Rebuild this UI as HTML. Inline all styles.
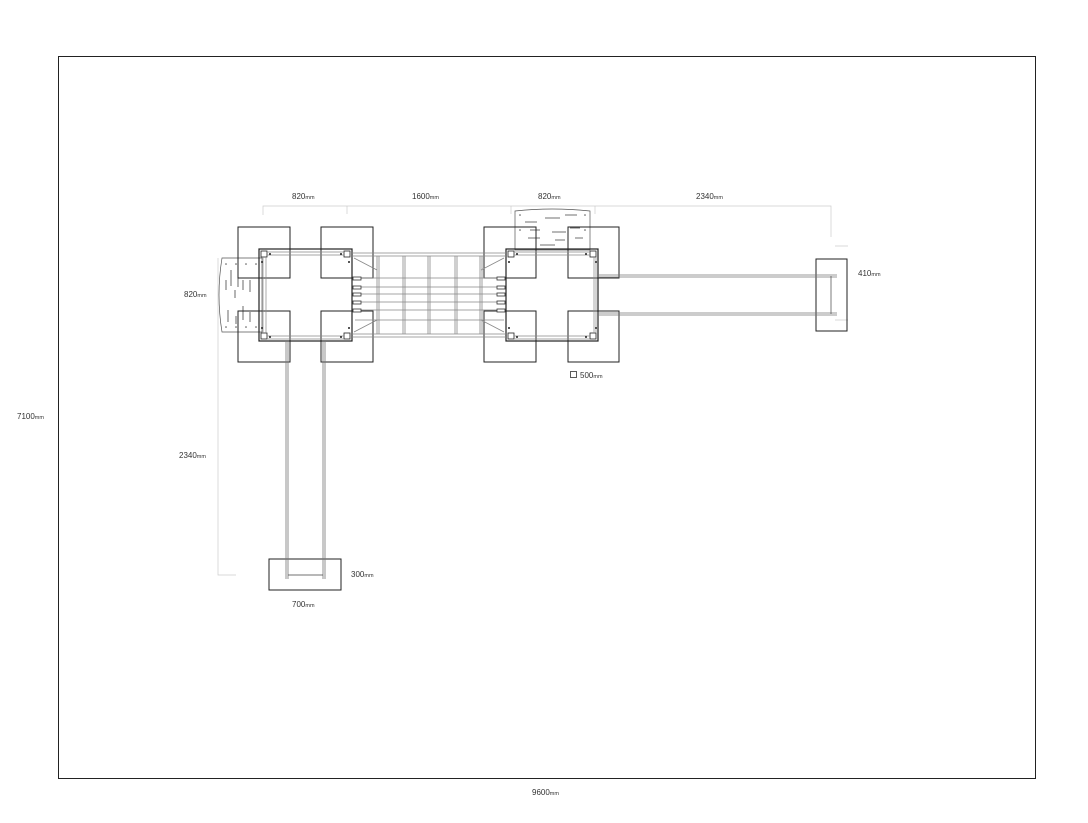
<!DOCTYPE html>
<html><head><meta charset="utf-8"><style>
html,body{margin:0;padding:0;background:#fff;}
svg{display:block;font-family:"Liberation Sans",sans-serif;}
.t{font-size:8px;fill:#333;}
.s{font-size:5.5px;fill:#333;}
</style></head><body>
<svg width="1088" height="823" viewBox="0 0 1088 823" xmlns="http://www.w3.org/2000/svg">
<rect x="58.5" y="56.5" width="977" height="722" fill="none" stroke="#222" stroke-width="1"/>
<!-- dimension lines -->
<g stroke="#ccc" stroke-width="0.7" fill="none">
<path d="M263 215V206H831V237M347 206V214M511 206V214M595 206V214"/>
<path d="M835 246H848M835 320H848"/>
<path d="M218 258V575H236"/>
</g>
<!-- climbing panels -->
<g stroke="#555" stroke-width="0.7" fill="#fff">
<path d="M222 258L262 258L262 332L222 332Q216 295 222 258Z"/>
<path d="M515 211Q552 207 590 211L590 250L515 250Z"/>
</g>
<g stroke="#444" stroke-width="0.8" fill="none">
<path d="M226 280v10M231 270v16M238 275v12M243 280v10M228 310v12M236 316v8M243 306v14M250 312v10M235 290v8M250 280v12"/>
<path d="M525 222h12M545 218h15M565 215h12M530 230h10M552 232h14M528 238h12M555 240h10M540 245h15M570 228h10M575 238h8"/>
</g>
<g fill="#555">
<circle cx="226" cy="264" r="0.8"/><circle cx="236" cy="264" r="0.8"/><circle cx="246" cy="264" r="0.8"/><circle cx="256" cy="264" r="0.8"/>
<circle cx="226" cy="327" r="0.8"/><circle cx="236" cy="327" r="0.8"/><circle cx="246" cy="327" r="0.8"/><circle cx="256" cy="327" r="0.8"/>
<circle cx="520" cy="215" r="0.8"/><circle cx="585" cy="215" r="0.8"/><circle cx="520" cy="230" r="0.8"/><circle cx="585" cy="230" r="0.8"/>
</g>
<!-- footings -->
<g stroke="#222" stroke-width="1" fill="none">
<rect x="238" y="227" width="52" height="51"/><rect x="321" y="227" width="52" height="51"/>
<rect x="238" y="311" width="52" height="51"/><rect x="321" y="311" width="52" height="51"/>
<rect x="484" y="227" width="52" height="51"/><rect x="568" y="227" width="51" height="51"/>
<rect x="484" y="311" width="52" height="51"/><rect x="568" y="311" width="51" height="51"/>
<rect x="816" y="259" width="31" height="72"/>
<rect x="269" y="559" width="72" height="31"/>
</g>
<!-- platform frames -->
<g stroke="#222" stroke-width="1.2" fill="none">
<rect x="259" y="249" width="93" height="92"/>
<rect x="506" y="249" width="92" height="92"/>
</g>
<g stroke="#222" stroke-width="0.8" fill="#fff">
<rect x="261" y="251" width="6" height="6"/><rect x="344" y="251" width="6" height="6"/><rect x="261" y="333" width="6" height="6"/><rect x="344" y="333" width="6" height="6"/>
<rect x="508" y="251" width="6" height="6"/><rect x="590" y="251" width="6" height="6"/><rect x="508" y="333" width="6" height="6"/><rect x="590" y="333" width="6" height="6"/>
</g>
<!-- rails inside platforms -->
<g stroke="#888" stroke-width="0.7" fill="none">
<path d="M267 252H344M267 255H344M267 336H344M267 339H344M263 257V333M266 257V333"/>
<path d="M514 252H590M514 255H590M514 336H590M514 339H590M594 257V333M596 257V333"/>
</g>
<!-- bridge -->
<g stroke="#888" stroke-width="0.8" fill="none">
<path d="M352 253H506M352 256H506M352 334H506M352 337H506"/>
<path d="M377 256V334M379 256V334M403 256V334M405 256V334M428 256V334M430 256V334M455 256V334M457 256V334M480 256V334M482 256V334"/>
<path d="M355 278H504M355 287H504M355 294H504M355 302H504M355 310H504M355 320H504"/>
<path d="M354 258L377 270M354 332L377 320M504 258L481 270M504 332L481 320"/>
</g>
<g stroke="#333" stroke-width="0.8" fill="#fff">
<rect x="353" y="277" width="8" height="3"/><rect x="353" y="286" width="8" height="3"/><rect x="353" y="293" width="8" height="3"/><rect x="353" y="301" width="8" height="3"/><rect x="353" y="309" width="8" height="3"/>
<rect x="497" y="277" width="8" height="3"/><rect x="497" y="286" width="8" height="3"/><rect x="497" y="293" width="8" height="3"/><rect x="497" y="301" width="8" height="3"/><rect x="497" y="309" width="8" height="3"/>
</g>
<!-- arms -->
<g stroke="#777" stroke-width="0.8" fill="none">
<path d="M598 275H837M598 277H837M598 313H837M598 315H837"/>
<path d="M286 342V579M288 342V579M323 342V579M325 342V579"/>
</g>
<g stroke="#444" stroke-width="0.7"><path d="M831 276V314M288 575H323"/></g>
<g fill="#222">
<circle cx="270" cy="254" r="1"/><circle cx="341" cy="254" r="1"/><circle cx="262" cy="262" r="1"/><circle cx="349" cy="262" r="1"/>
<circle cx="262" cy="328" r="1"/><circle cx="349" cy="328" r="1"/><circle cx="270" cy="337" r="1"/><circle cx="341" cy="337" r="1"/>
<circle cx="517" cy="254" r="1"/><circle cx="586" cy="254" r="1"/><circle cx="509" cy="262" r="1"/><circle cx="596" cy="262" r="1"/>
<circle cx="509" cy="328" r="1"/><circle cx="596" cy="328" r="1"/><circle cx="517" cy="337" r="1"/><circle cx="586" cy="337" r="1"/>
</g>
<!-- labels -->
<text class="t" x="292" y="199">820<tspan class="s">mm</tspan></text>
<text class="t" x="412" y="199">1600<tspan class="s">mm</tspan></text>
<text class="t" x="538" y="199">820<tspan class="s">mm</tspan></text>
<text class="t" x="696" y="199">2340<tspan class="s">mm</tspan></text>
<text class="t" x="858" y="276">410<tspan class="s">mm</tspan></text>
<text class="t" x="184" y="297">820<tspan class="s">mm</tspan></text>
<text class="t" x="179" y="458">2340<tspan class="s">mm</tspan></text>
<text class="t" x="351" y="577">300<tspan class="s">mm</tspan></text>
<text class="t" x="292" y="607">700<tspan class="s">mm</tspan></text>
<rect x="570.5" y="371.5" width="6" height="6" fill="none" stroke="#333" stroke-width="0.8"/>
<text class="t" x="580" y="378">500<tspan class="s">mm</tspan></text>
<text class="t" x="17" y="419">7100<tspan class="s">mm</tspan></text>
<text class="t" x="532" y="795">9600<tspan class="s">mm</tspan></text>
</svg>
</body></html>
